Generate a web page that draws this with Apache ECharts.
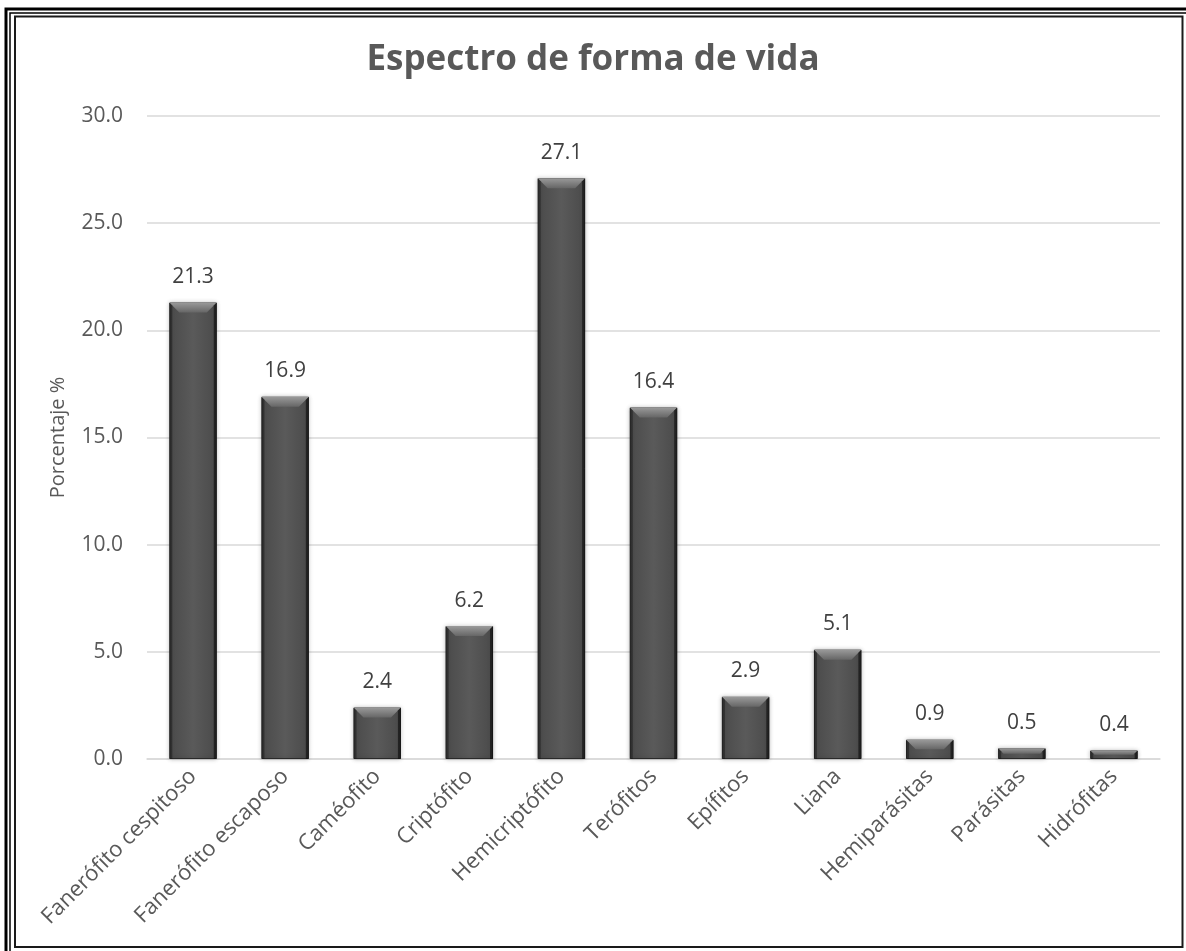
<!DOCTYPE html>
<html>
<head>
<meta charset="utf-8">
<title>Espectro de forma de vida</title>
<script src="https://cdn.jsdelivr.net/npm/echarts@6/dist/echarts.min.js"></script>
<style>
  html, body { margin: 0; padding: 0; background: #ffffff; }
  #chart { width: 1186px; height: 951px; }
</style>
</head>
<body>
<div id="chart"></div>
<script>
// Life-form spectrum (percentage of species per life form)
const categories = [
  'Fanerófito cespitoso', 'Fanerófito escaposo', 'Caméofito', 'Criptófito',
  'Hemicriptófito', 'Terófitos', 'Epífitos', 'Liana', 'Hemiparásitas',
  'Parásitas', 'Hidrófitas'
];
const percentages = [21.3, 16.9, 2.4, 6.2, 27.1, 16.4, 2.9, 5.1, 0.9, 0.5, 0.4];
const yTicks = { min: 0, max: 30, interval: 5 };

const FONT = '"Open Sans", "Noto Sans", sans-serif';
const BAR_RATIO = 0.515;

const chart = echarts.init(document.getElementById('chart'), null, { renderer: 'canvas' });

// Bevel highlight drawn on top of each bar, positioned through the axis scales
function renderBevel(params, api) {
  const idx = api.value(0);
  const val = api.value(1);
  const top = api.coord([idx, val]);
  const base = api.coord([idx, 0]);
  const w = api.size([1, 0])[0] * BAR_RATIO;
  const x0 = top[0] - w / 2, x1 = top[0] + w / 2;
  const y0 = top[1], y1 = base[1];
  const h = y1 - y0;
  const d = Math.min(10, h / 2);
  const side = Math.min(3, w / 6);
  return {
    type: 'group',
    children: [
      {
        type: 'polygon',
        shape: { points: [[x0, y0], [x1, y0], [x1 - d, y0 + d], [x0 + d, y0 + d]] },
        style: {
          fill: new echarts.graphic.LinearGradient(0, 0, 0, 1, [
            { offset: 0, color: '#9a9a9a' },
            { offset: 1, color: '#666666' }
          ])
        },
        silent: true
      },
      {
        type: 'polygon',
        shape: { points: [[x0, y0], [x0 + side, y0 + side], [x0 + side, y1], [x0, y1]] },
        style: { fill: 'rgba(20,20,20,0.45)' },
        silent: true
      },
      {
        type: 'polygon',
        shape: { points: [[x1, y0], [x1 - side, y0 + side], [x1 - side, y1], [x1, y1]] },
        style: { fill: 'rgba(10,10,10,0.6)' },
        silent: true
      }
    ]
  };
}

const option = {
  backgroundColor: '#ffffff',
  animation: false,
  title: {
    text: 'Espectro de forma de vida',
    left: 'center',
    top: 38,
    textStyle: { fontFamily: FONT, fontSize: 35, fontWeight: 'bold', color: '#595959' }
  },
  grid: { left: 147, right: 26, top: 116, bottom: 192 },
  xAxis: {
    type: 'category',
    data: categories,
    axisLine: { show: true, lineStyle: { color: '#d9d9d9', width: 1.5 } },
    axisTick: { show: false },
    axisLabel: {
      interval: 0,
      rotate: 45,
      margin: 14,
      fontFamily: FONT,
      fontSize: 22,
      color: '#595959'
    }
  },
  yAxis: {
    type: 'value',
    min: yTicks.min,
    max: yTicks.max,
    interval: yTicks.interval,
    name: 'Porcentaje %',
    nameLocation: 'middle',
    nameGap: 79,
    nameTextStyle: { fontFamily: FONT, fontSize: 20, color: '#595959' },
    axisLine: { show: false },
    axisTick: { show: false },
    splitLine: { lineStyle: { color: '#d9d9d9', width: 1.5 } },
    axisLabel: {
      margin: 24,
      fontFamily: FONT,
      fontSize: 21,
      color: '#595959',
      formatter: v => v.toFixed(1)
    }
  },
  series: [
    {
      type: 'bar',
      data: percentages,
      barWidth: (BAR_RATIO * 100) + '%',
      itemStyle: {
        color: new echarts.graphic.LinearGradient(0, 0, 1, 0, [
          { offset: 0, color: '#4a4a4a' },
          { offset: 0.5, color: '#5a5a5a' },
          { offset: 1, color: '#4a4a4a' }
        ]),
        borderColor: '#2a2a2a',
        borderWidth: 1,
        shadowBlur: 4,
        shadowColor: 'rgba(0,0,0,0.25)'
      },
      label: {
        show: true,
        position: 'top',
        distance: 15,
        fontFamily: FONT,
        fontSize: 21,
        color: '#404040',
        formatter: p => p.value.toFixed(1)
      },
      z: 2
    },
    {
      type: 'custom',
      renderItem: renderBevel,
      data: percentages.map((v, i) => [i, v]),
      encode: { x: 0, y: 1 },
      silent: true,
      z: 3
    }
  ],
  // Double page-style frame around the chart
  graphic: [
    { type: 'rect', shape: { x: 6, y: 9, width: 1186, height: 951 }, style: { fill: 'none', stroke: '#000', lineWidth: 3 }, silent: true },
    { type: 'rect', shape: { x: 10, y: 13, width: 1186, height: 951 }, style: { fill: 'none', stroke: '#000', lineWidth: 1.5 }, silent: true },
    { type: 'rect', shape: { x: 15, y: 16.5, width: 1167.5, height: 930.5 }, style: { fill: 'none', stroke: '#1a1a1a', lineWidth: 2 }, silent: true }
  ]
};

chart.setOption(option);
</script>
</body>
</html>
